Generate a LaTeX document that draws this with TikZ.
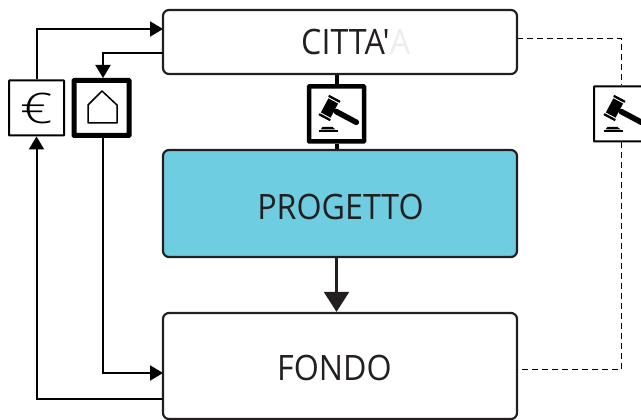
\documentclass[tikz,border=0pt]{standalone}
\usepackage{fontspec}
\setmainfont[Ligatures=TeXOff,FakeStretch=0.92]{Open Sans}
\newfontfamily\eurofont[FakeStretch=1.35]{Open Sans Light}
\usetikzlibrary{arrows.meta}
\definecolor{inkline}{HTML}{231F20}
\definecolor{cyanfill}{HTML}{6ECDE0}
\tikzset{
  mainbox/.style={draw=inkline,line width=2.2pt,rounded corners=6pt,minimum width=354pt,inner sep=0pt},
  boxlabel/.style={text=inkline,font=\fontsize{35}{36}\selectfont,inner sep=0pt},
  iconbox/.style={draw=black,fill=white,line width=#1,rounded corners=.5pt,minimum width=55pt,minimum height=55pt,inner sep=0pt},
  flow/.style={draw=black,line width=2pt,line join=miter,-{Triangle[length=13pt,width=15pt]}},
  plain/.style={draw=inkline,line width=2.2pt},
  link/.style={draw=black,line width=1pt,dash pattern=on 6pt off 4pt},
  gavel/.pic={
    \begin{scope}[shift={(-7,-6)},rotate=-28]
      \fill (-5.5,-8) rectangle (5.5,8);
      \foreach \s in {-1,1} {%
        \fill[rounded corners=.5pt] (-6.5,9.2*\s) rectangle (6.5,11.5*\s);
      }
      \fill[rounded corners=2.5pt] (5,-2.8) rectangle (33,2.8);
    \end{scope}
    \fill (-14,13) -- (-4,13) -- (-1,15.5) -- (-16,15.5) -- cycle;
    \fill (-18,16.3) rectangle (1.5,18.3);
  }
}

\begin{document}
\begin{tikzpicture}[x=1pt,y=-1pt]
  \useasboundingbox (0,0) rectangle (641,420);
  \node[mainbox,minimum height=64pt] (citta) at (340,42) {};
  \node[mainbox,minimum height=107pt,fill=cyanfill] (progetto) at (340,203.5) {};
  \node[mainbox,minimum height=106pt] (fondo) at (340,366) {};
  \node[boxlabel,anchor=west] (cittalabel) at (301,42) {CITTA'\textcolor{black!7}{A}};
  \node[boxlabel] (progettolabel) at (340.5,207) {PROGETTO};
  \node[boxlabel] (fondolabel) at (334.5,368) {FONDO};
  \node[iconbox=2pt,font=\fontsize{42}{42}\eurofont] (euro) at (36.5,108) {€};
  \node[iconbox=5pt] (casa) at (101.5,108) {};
  \node[iconbox=4.5pt] (giudice) at (336.5,114) {};
  \node[iconbox=2pt] (giudiceext) at (621.5,114) {};
  \draw[draw=black,line width=1.5pt,line join=round] (88,123) -- (88,105) -- (102,91) -- (117,105) -- (117,123) -- cycle;
  \path (giudice) pic {gavel};
  \path (giudiceext) pic {gavel};
  \coordinate (cittain) at (163,29);
  \coordinate (cittaout) at (163,53);
  \coordinate (cittadash) at (517,39);
  \coordinate (fondoin) at (163,373);
  \coordinate (fondoout) at (163,399);
  \coordinate (fondodash) at (517,369);
  \draw[flow] (euro.north) |- (cittain);
  \draw[flow] (cittaout) -| ([xshift=1.5pt]casa.north);
  \draw[flow] ([xshift=1.5pt]casa.south) |- (fondoin);
  \draw[flow] (fondoout) -| (euro.south);
  \draw[line width=4pt] (citta.south -| giudice) -- (giudice.north);
  \draw[line width=4pt] (giudice.south) -- (progetto.north -| giudice);
  \draw[plain,-{Triangle[length=20pt,width=25pt]}] (progetto.south -| giudice) -- (fondo.north -| giudice);
  \draw[link] (cittadash) -| (giudiceext.north);
  \draw[link] (giudiceext.south) |- (fondodash);
\end{tikzpicture}
\end{document}
